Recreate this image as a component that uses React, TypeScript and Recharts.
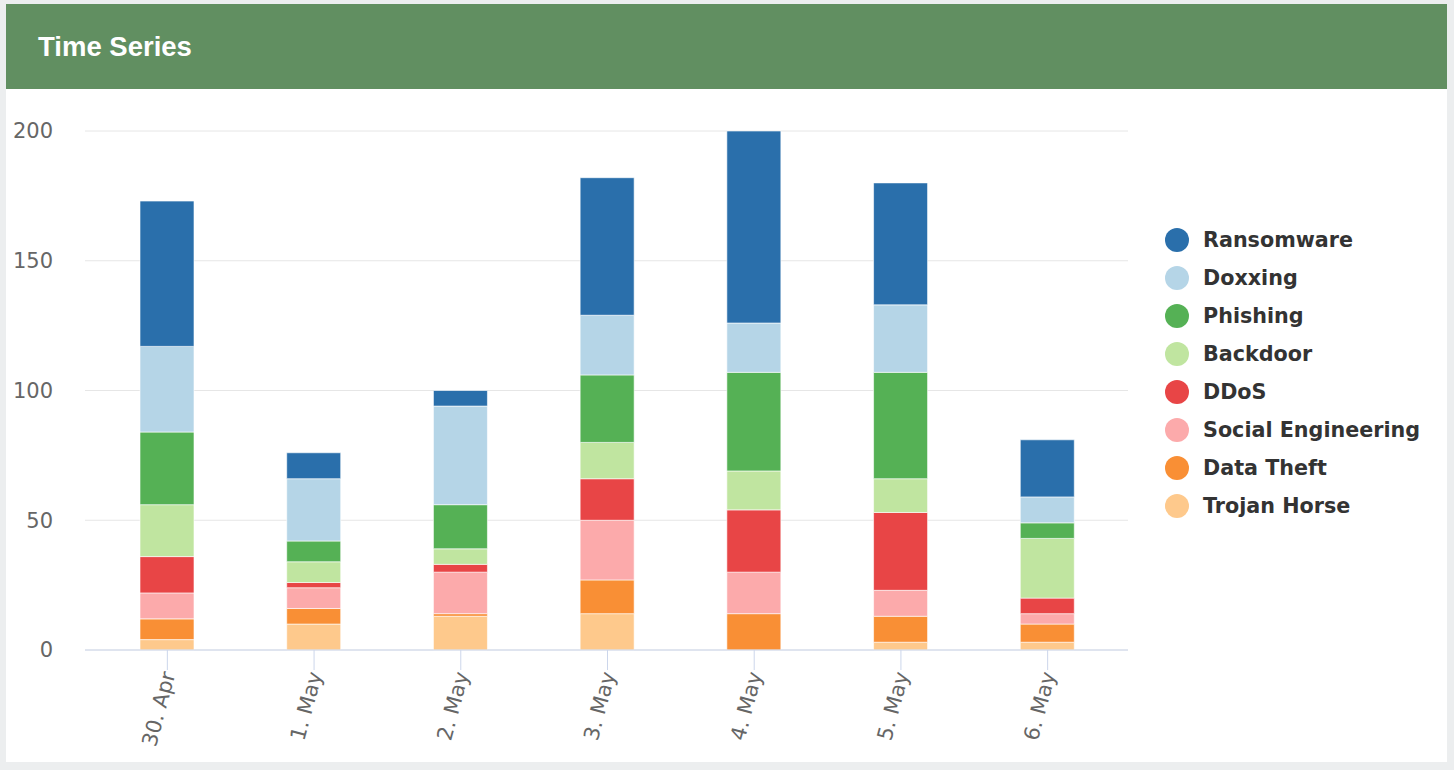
import { BarChart, Bar, XAxis, YAxis, CartesianGrid } from 'recharts';

const categories = ['30. Apr', '1. May', '2. May', '3. May', '4. May', '5. May', '6. May'];

// bottom of the stack first
const trojanHorse = [4, 10, 13, 14, 0, 3, 3];
const dataTheft = [8, 6, 1, 13, 14, 10, 7];
const socialEngineering = [10, 8, 16, 23, 16, 10, 4];
const ddos = [14, 2, 3, 16, 24, 30, 6];
const backdoor = [20, 8, 6, 14, 15, 13, 23];
const phishing = [28, 8, 17, 26, 38, 41, 6];
const doxxing = [33, 24, 38, 23, 19, 26, 10];
const ransomware = [56, 10, 6, 53, 74, 47, 22];

const yTicks = [0, 50, 100, 150, 200];

const series = [
  { key: 'trojan', name: 'Trojan Horse', values: trojanHorse, color: '#fec98c' },
  { key: 'dataTheft', name: 'Data Theft', values: dataTheft, color: '#f98f35' },
  { key: 'social', name: 'Social Engineering', values: socialEngineering, color: '#fcaaab' },
  { key: 'ddos', name: 'DDoS', values: ddos, color: '#e84546' },
  { key: 'backdoor', name: 'Backdoor', values: backdoor, color: '#c0e5a0' },
  { key: 'phishing', name: 'Phishing', values: phishing, color: '#55b155' },
  { key: 'doxxing', name: 'Doxxing', values: doxxing, color: '#b5d5e7' },
  { key: 'ransomware', name: 'Ransomware', values: ransomware, color: '#2a6fab' },
];

const data = categories.map((day, i) => {
  const row: Record<string, string | number> = { day };
  series.forEach(s => {
    row[s.key] = s.values[i];
  });
  return row;
});

const FONT = '"DejaVu Sans", Verdana, sans-serif';

function DayTick(props: any) {
  const { x, y, payload } = props;
  return (
    <text
      transform={`translate(${x + 1},${y}) rotate(-75)`}
      textAnchor="end"
      dy="0.35em"
      fontSize={21}
      fontFamily={FONT}
      fill="#666"
    >
      {payload.value}
    </text>
  );
}

export default function App() {
  return (
    <div style={{ position: 'absolute', left: 0, top: 0, width: 1454, height: 770, background: '#eceeef' }}>
      <style>{`body { margin: 0; }`}</style>
      <div
        style={{
          position: 'absolute',
          left: 6,
          top: 4,
          width: 1441,
          height: 85,
          background: '#618f61',
          color: '#fff',
          fontFamily: '"Liberation Sans", Arial, sans-serif',
          fontWeight: 'bold',
          fontSize: 27.5,
          lineHeight: '85px',
          paddingLeft: 32,
          boxSizing: 'border-box',
        }}
      >
        Time Series
      </div>
      <div style={{ position: 'absolute', left: 6, top: 89, width: 1441, height: 673, background: '#fff' }}>
        <BarChart
          width={1441}
          height={672}
          data={data}
          margin={{ top: 42, right: 319, bottom: 51, left: 0 }}
        >
          <CartesianGrid vertical={false} stroke="#e6e6e6" />
          <XAxis
            dataKey="day"
            height={60}
            padding={{ left: 9, right: 7 }}
            axisLine={{ stroke: '#ccd6eb' }}
            tickLine={{ stroke: '#ccd6eb' }}
            tickSize={20}
            interval={0}
            tick={<DayTick />}
          />
          <YAxis
            width={79}
            domain={[0, 200]}
            ticks={yTicks}
            axisLine={false}
            tickLine={false}
            tickSize={0}
            tickMargin={32}
            tick={{ fontSize: 21, fill: '#666', fontFamily: FONT }}
          />
          {series.map(s => (
            <Bar
              key={s.key}
              dataKey={s.key}
              name={s.name}
              stackId="a"
              fill={s.color}
              barSize={54}
              stroke="#ffffff"
              strokeWidth={0.6}
              isAnimationActive={false}
            />
          ))}
        </BarChart>
      </div>
      <div style={{ position: 'absolute', left: 1165, top: 221 }}>
        {[...series].reverse().map(s => (
          <div key={s.key} style={{ display: 'flex', alignItems: 'center', height: 38 }}>
            <span
              style={{
                width: 24,
                height: 24,
                borderRadius: '50%',
                background: s.color,
                display: 'inline-block',
              }}
            />
            <span
              style={{
                marginLeft: 14,
                fontFamily: FONT,
                fontWeight: 'bold',
                fontSize: 20.7,
                color: '#333',
              }}
            >
              {s.name}
            </span>
          </div>
        ))}
      </div>
    </div>
  );
}
